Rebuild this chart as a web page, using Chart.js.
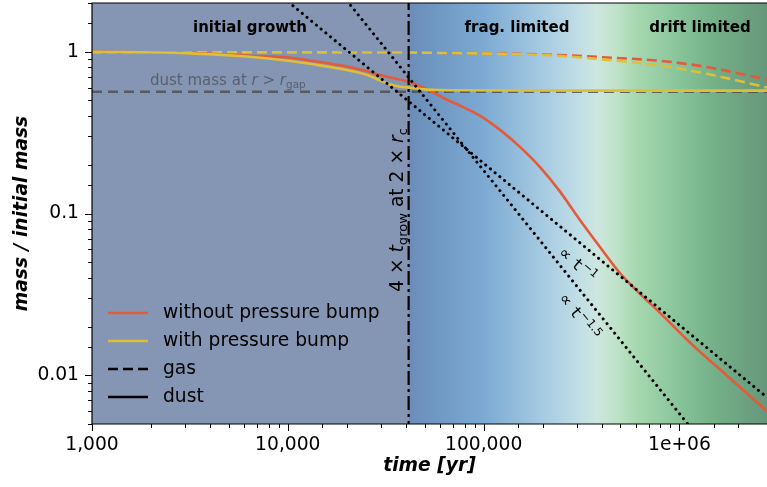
<!DOCTYPE html>
<html>
<head>
<meta charset="utf-8">
<script src="https://cdn.jsdelivr.net/npm/chart.js@4.4.1/dist/chart.umd.min.js"></script>
<style>
  html, body { margin: 0; padding: 0; background: #ffffff; }
  canvas { display: block; }
</style>
</head>
<body>
<canvas id="massChart" width="767" height="487"></canvas>
<script>
// dust, without pressure bump
const dustTimeNoBump = [1000, 3000, 6400, 10000, 14000, 20000, 25000, 32000, 41800, 52000, 65000, 80000, 95600, 120800, 152700, 193000, 244000, 309000, 391000, 494000, 603000, 791000, 1160000, 1740000, 2800000];
const dustNoBump = [1.0, 0.985, 0.945, 0.92, 0.87, 0.81, 0.76, 0.70, 0.65, 0.58, 0.505, 0.45, 0.403, 0.33, 0.259, 0.195, 0.138, 0.0918, 0.0625, 0.0432, 0.0335, 0.0245, 0.0155, 0.0100, 0.006];
// dust, with pressure bump
const dustTimeBump = [1000, 3000, 6400, 10000, 14000, 20000, 25300, 30000, 33100, 37000, 41800, 50000, 60000, 80000, 150000, 500000, 1000000, 2800000];
const dustBump = [1.0, 0.98, 0.93, 0.88, 0.83, 0.77, 0.72, 0.66, 0.63, 0.61, 0.60, 0.585, 0.58, 0.578, 0.576, 0.575, 0.575, 0.575];
// gas
const gasTime = [1000, 10000, 40000, 82000, 150000, 217000, 390000, 860000, 1500000, 2800000];
const gasNoBump = [0.99, 0.99, 0.988, 0.98, 0.97, 0.958, 0.927, 0.87, 0.79, 0.67];
const gasBump = [0.99, 0.99, 0.988, 0.978, 0.965, 0.95, 0.90, 0.81, 0.715, 0.60];
// dust mass outside the gap
const gapTime = [1000, 2800000];
const gapMass = [0.565, 0.565];
// power-law guides
const slope1Time = [9500, 2800000];
const slope1 = [2.15, 0.0073];
const slope15Time = [20000, 1150000];
const slope15 = [2.07, 0.0047];
// 4 x t_grow marker
const growTime = [41400, 41400];
const growMass = [0.003, 3];

const xTickValues = [1000, 10000, 100000, 1000000];
const xTickLabels = ['1,000', '10,000', '100,000', '1e+06'];
const yTickValues = [0.01, 0.1, 1];
const yTickLabels = ['0.01', '0.1', '1'];

const legendLabels = ['without pressure bump', 'with pressure bump', 'gas', 'dust'];

// background shading
const bgLeft = '#8596b4';
const bgTimes = [41400, 60000, 100000, 200000, 300000, 380000, 480000, 600000, 1000000, 1500000, 2800000];
const bgColors = ['#6c8cb8', '#7099c4', '#7caad3', '#a6cae1', '#bfdde6', '#cde6df', '#bfe2c8', '#a7d8b0', '#88c49a', '#74b088', '#67977b'];

const RED = '#e25b3b';
const YELLOW = '#dfbe38';
const FONT = 'DejaVu Sans';
const FS = 18.7;

function pts(xs, ys) {
    return xs.map((x, i) => ({ x: x, y: ys[i] }));
}

function tickLabel(values, labels, v) {
    const i = values.findIndex(t => Math.abs(t / v - 1) < 1e-6);
    return i >= 0 ? labels[i] : '';
}

// draws text made of pieces: [text, kind] kind: '' normal, 'i' italic, 'sub', 'sup', 'm' mono
function drawRich(ctx, parts, x, y, size, align) {
    const fontFor = (k) => {
        if (k === 'sub' || k === 'sup') return (size * 0.7) + 'px "' + FONT + '"';
        if (k === 'i') return 'italic ' + size + 'px "' + FONT + '"';
        if (k === 'm') return size + 'px "DejaVu Sans Mono"';
        return size + 'px "' + FONT + '"';
    };
    let total = 0;
    const widths = parts.map(p => {
        ctx.font = fontFor(p[1]);
        const w = ctx.measureText(p[0]).width;
        total += w;
        return w;
    });
    let cx = align === 'center' ? x - total / 2 : x;
    ctx.textAlign = 'left';
    ctx.textBaseline = 'alphabetic';
    parts.forEach((p, i) => {
        ctx.font = fontFor(p[1]);
        let dy = 0;
        if (p[1] === 'sub') dy = size * 0.2;
        if (p[1] === 'sup') dy = -size * 0.38;
        ctx.fillText(p[0], cx, y + dy);
        cx += widths[i];
    });
}

const decorPlugin = {
    id: 'decor',
    beforeDatasetsDraw(chart) {
        const { ctx, chartArea: a, scales: { x } } = chart;
        ctx.save();
        ctx.fillStyle = bgLeft;
        ctx.fillRect(a.left, a.top, a.right - a.left, a.bottom - a.top);
        const x0 = x.getPixelForValue(bgTimes[0]);
        const g = ctx.createLinearGradient(x0, 0, a.right, 0);
        bgTimes.forEach((t, i) => {
            const f = (x.getPixelForValue(t) - x0) / (a.right - x0);
            g.addColorStop(Math.min(1, Math.max(0, f)), bgColors[i]);
        });
        ctx.fillStyle = g;
        ctx.fillRect(x0, a.top, a.right - x0, a.bottom - a.top);
        ctx.restore();
    },
    afterDatasetsDraw(chart) {
        const { ctx, chartArea: a } = chart;
        ctx.save();
        ctx.fillStyle = '#000000';
        ctx.font = 'bold 15px "' + FONT + '"';
        ctx.textAlign = 'center';
        ctx.textBaseline = 'middle';
        ctx.fillText('initial growth', 250, 28);
        ctx.fillText('frag. limited', 517, 28);
        ctx.fillText('drift limited', 700, 28);

        // gap mass label
        ctx.fillStyle = 'rgba(75,78,85,0.75)';
        drawRich(ctx, [['dust mass at ', ''], ['r', 'i'], [' > ', ''], ['r', 'i'], ['gap', 'sub']], 150, 85, 15, 'left');

        // vertical marker label
        ctx.fillStyle = '#000000';
        ctx.save();
        ctx.translate(403, 210);
        ctx.rotate(-Math.PI / 2);
        drawRich(ctx, [['4 × ', ''], ['t', 'i'], ['grow', 'sub'], [' at 2 × ', ''], ['r', 'i'], ['c', 'sub']], 0, 0, FS, 'center');
        ctx.restore();

        // power-law labels
        ctx.save();
        ctx.translate(578, 264);
        ctx.rotate(41 * Math.PI / 180);
        drawRich(ctx, [['∝ ', ''], ['t', 'm'], ['−1', 'sup']], 0, 6, 16.5, 'center');
        ctx.restore();
        ctx.save();
        ctx.translate(580, 316);
        ctx.rotate(51 * Math.PI / 180);
        drawRich(ctx, [['∝ ', ''], ['t', 'm'], ['−1.5', 'sup']], 0, 6, 16.5, 'center');
        ctx.restore();

        // legend
        const rows = [313, 341, 369, 397];
        const styles = [[RED, []], [YELLOW, []], ['#000000', [10, 5]], ['#000000', []]];
        rows.forEach((y, i) => {
            ctx.strokeStyle = styles[i][0];
            ctx.setLineDash(styles[i][1]);
            ctx.lineWidth = 2.7;
            ctx.beginPath();
            ctx.moveTo(108, y);
            ctx.lineTo(148, y);
            ctx.stroke();
            ctx.setLineDash([]);
            ctx.fillStyle = '#000000';
            ctx.font = FS + 'px "' + FONT + '"';
            ctx.textAlign = 'left';
            ctx.textBaseline = 'middle';
            ctx.fillText(legendLabels[i], 163, y);
        });

        // spines
        ctx.strokeStyle = '#000000';
        ctx.lineWidth = 1.2;
        ctx.beginPath();
        ctx.moveTo(a.right, a.top);
        ctx.lineTo(a.left, a.top);
        ctx.lineTo(a.left, a.bottom);
        ctx.lineTo(a.right, a.bottom);
        ctx.stroke();
        ctx.restore();
    },
    afterDraw(chart) {
        const { ctx, chartArea: a, scales: { x, y } } = chart;
        ctx.save();
        ctx.strokeStyle = '#000000';
        ctx.lineWidth = 1;
        const isMajor = v => Math.abs(Math.log10(v) - Math.round(Math.log10(v))) < 1e-6;
        x.ticks.forEach(t => {
            if (t.value < x.min || t.value > x.max) return;
            const p = Math.round(x.getPixelForValue(t.value)) + 0.5;
            const len = isMajor(t.value) ? 7 : 4;
            ctx.beginPath();
            ctx.moveTo(p, a.bottom);
            ctx.lineTo(p, a.bottom + len);
            ctx.stroke();
        });
        y.ticks.forEach(t => {
            if (t.value < y.min || t.value > y.max) return;
            const p = Math.round(y.getPixelForValue(t.value)) + 0.5;
            const len = isMajor(t.value) ? 7 : 4;
            ctx.beginPath();
            ctx.moveTo(a.left, p);
            ctx.lineTo(a.left - len, p);
            ctx.stroke();
        });
        ctx.restore();
    }
};

Chart.defaults.font.family = FONT;
Chart.defaults.color = '#000000';

new Chart(document.getElementById('massChart'), {
    type: 'line',
    data: {
        datasets: [
            {
                data: pts(growTime, growMass),
                borderColor: '#000000',
                borderWidth: 2.2,
                borderDash: [14, 4, 3, 4],
                pointRadius: 0,
                order: 0
            },
            {
                data: pts(slope1Time, slope1),
                borderColor: '#000000',
                borderWidth: 3,
                borderDash: [0.1, 6],
                borderCapStyle: 'round',
                pointRadius: 0,
                order: 1
            },
            {
                data: pts(slope15Time, slope15),
                borderColor: '#000000',
                borderWidth: 3,
                borderDash: [0.1, 6],
                borderCapStyle: 'round',
                pointRadius: 0,
                order: 1
            },
            {
                data: pts(dustTimeBump, dustBump),
                borderColor: YELLOW,
                borderWidth: 2.6,
                cubicInterpolationMode: 'monotone',
                pointRadius: 0,
                order: 2
            },
            {
                data: pts(dustTimeNoBump, dustNoBump),
                borderColor: RED,
                borderWidth: 2.6,
                cubicInterpolationMode: 'monotone',
                pointRadius: 0,
                order: 3
            },
            {
                data: pts(gasTime, gasBump),
                borderColor: YELLOW,
                borderWidth: 2.6,
                borderDash: [10, 5],
                cubicInterpolationMode: 'monotone',
                pointRadius: 0,
                order: 4
            },
            {
                data: pts(gasTime, gasNoBump),
                borderColor: RED,
                borderWidth: 2.6,
                borderDash: [10, 5],
                cubicInterpolationMode: 'monotone',
                pointRadius: 0,
                order: 5
            },
            {
                data: pts(gapTime, gapMass),
                borderColor: 'rgba(75,75,75,0.8)',
                borderWidth: 2.6,
                borderDash: [10, 6],
                pointRadius: 0,
                order: 6
            }
        ]
    },
    options: {
        responsive: false,
        devicePixelRatio: 1,
        animation: false,
        events: [],
        layout: { padding: { top: 3, left: 0, right: 0, bottom: 0 } },
        plugins: {
            legend: { display: false },
            tooltip: { enabled: false }
        },
        scales: {
            x: {
                type: 'logarithmic',
                min: 1000,
                max: 2800000,
                grid: { display: false, drawTicks: false },
                border: { display: false },
                ticks: {
                    autoSkip: false,
                    maxRotation: 0,
                    padding: 10,
                    font: { size: FS },
                    callback: function(value) {
                        return tickLabel(xTickValues, xTickLabels, value);
                    }
                },
                title: {
                    display: true,
                    text: 'time [yr]',
                    font: { size: FS, weight: 'bold', style: 'italic' },
                    padding: { top: 0, bottom: 10 }
                },
                afterFit: function(scale) {
                    scale.height = 63;
                    scale.paddingLeft = 0;
                    scale.paddingRight = 0;
                }
            },
            y: {
                type: 'logarithmic',
                min: 0.005,
                max: 2,
                grid: { display: false, drawTicks: false },
                border: { display: false },
                ticks: {
                    autoSkip: false,
                    padding: 13,
                    font: { size: FS },
                    callback: function(value) {
                        return tickLabel(yTickValues, yTickLabels, value);
                    }
                },
                title: {
                    display: true,
                    text: 'mass / initial mass',
                    font: { size: FS, weight: 'bold', style: 'italic' },
                    padding: { top: 11, bottom: 0 }
                },
                afterFit: function(scale) {
                    scale.width = 92;
                    scale.paddingTop = 0;
                    scale.paddingBottom = 0;
                }
            }
        }
    },
    plugins: [decorPlugin]
});
</script>
</body>
</html>
